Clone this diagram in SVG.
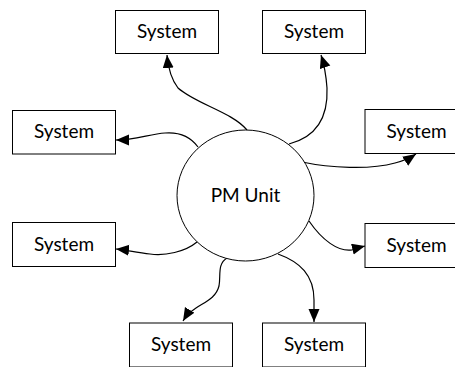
<svg xmlns="http://www.w3.org/2000/svg" width="455" height="367" viewBox="0 0 455 367">
<defs>
<marker id="ah" markerUnits="userSpaceOnUse" markerWidth="14" markerHeight="12" refX="13" refY="5.5" orient="auto">
<path d="M0,0 L13,5.5 L0,11 z" fill="#000"/>
</marker>
<style>
.box{fill:#fff;stroke:#000;stroke-width:1}
.lbl{font-family:Lato,"Liberation Sans",sans-serif;font-size:19px;fill:#000;text-anchor:middle}
.conn{fill:none;stroke:#000;stroke-width:1.2;marker-end:url(#ah)}
</style>
</defs>
<rect width="455" height="367" fill="#fff"/>
<g id="connectors">
<path class="conn" d="M247,130 C232,112 196,104 178,88 C171,79 168,66 167,55"/>
<path class="conn" d="M198,147 C190,136 178,132 165,133 C150,134 135,140 116,140"/>
<path class="conn" d="M289,144 C320,136 328,112 327,88 C326,74 324,64 321,55"/>
<path class="conn" d="M302,162 C330,168 370,170 395,163 C403,161 410,158 416,154"/>
<path class="conn" d="M309,221 C322,240 338,252 352,250 C357,249 361,247 365,246"/>
<path class="conn" d="M278,254 C300,262 314,275 314,300 L314,322"/>
<path class="conn" d="M227,258 C217,264 221,276 219,286 C216,298 205,302 196,308 C190,312 186,316 183,321"/>
<path class="conn" d="M197,242 C185,252 165,256 150,254 C138,253 126,250 116,249"/>
</g>
<g id="pm-unit">
<ellipse cx="245.5" cy="195.5" rx="68.5" ry="65.5" fill="#fff" stroke="#000" stroke-width="1"/>
<text class="lbl" x="245.5" y="202">PM Unit</text>
</g>
<g id="sys-top-left"><rect class="box" x="115.5" y="10.5" width="103" height="43"/><text class="lbl" x="167" y="38">System</text></g>
<g id="sys-top-right"><rect class="box" x="262.5" y="10.5" width="103" height="43"/><text class="lbl" x="314" y="38">System</text></g>
<g id="sys-left-upper"><rect class="box" x="12.5" y="110.5" width="103" height="43.5"/><text class="lbl" x="64" y="138">System</text></g>
<g id="sys-right-upper"><rect class="box" x="365" y="109.5" width="103" height="44"/><text class="lbl" x="416.5" y="137.5">System</text></g>
<g id="sys-left-lower"><rect class="box" x="12.5" y="222.5" width="103" height="44"/><text class="lbl" x="64" y="250.5">System</text></g>
<g id="sys-right-lower"><rect class="box" x="365" y="223.5" width="103" height="44"/><text class="lbl" x="416.5" y="251.5">System</text></g>
<g id="sys-bottom-left"><rect class="box" x="129.5" y="323" width="103" height="44"/><text class="lbl" x="181" y="351">System</text></g>
<g id="sys-bottom-right"><rect class="box" x="262.5" y="323" width="103" height="44"/><text class="lbl" x="314" y="351">System</text></g>
</svg>
